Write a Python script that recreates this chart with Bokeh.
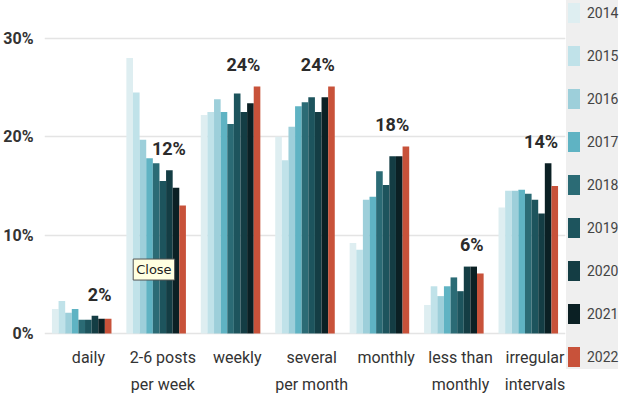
from bokeh.plotting import figure
from bokeh.layouts import row
from bokeh.models import (ColumnDataSource, FactorRange, Range1d, FixedTicker,
                          PrintfTickFormatter, Legend, LegendItem)
from bokeh.transform import dodge
from bokeh.core.properties import value
from bokeh.embed import file_html
from bokeh.resources import INLINE

categories = ["daily", "2-6 posts\nper week", "weekly", "several\nper month",
              "monthly", "less than\nmonthly", "irregular\nintervals"]
years = ["2014", "2015", "2016", "2017", "2018", "2019", "2020", "2021", "2022"]

v2014 = [2.5, 28.0, 22.2, 20.0, 9.2, 2.9, 12.8]
v2015 = [3.3, 24.5, 22.5, 17.6, 8.5, 4.8, 14.5]
v2016 = [2.1, 19.7, 23.8, 21.0, 13.6, 3.8, 14.5]
v2017 = [2.5, 17.8, 22.5, 23.1, 13.9, 4.8, 14.6]
v2018 = [1.4, 17.3, 21.3, 23.5, 16.5, 5.7, 14.2]
v2019 = [1.4, 15.5, 24.4, 24.0, 15.1, 4.3, 13.6]
v2020 = [1.8, 16.6, 22.5, 22.5, 18.0, 6.8, 12.2]
v2021 = [1.5, 14.8, 23.4, 24.0, 18.0, 6.8, 17.3]
v2022 = [1.5, 13.0, 25.1, 25.1, 19.0, 6.1, 15.0]

latest_labels = ["2%", "12%", "24%", "24%", "18%", "6%", "14%"]
y_ticks = [0, 10, 20, 30]

series = [v2014, v2015, v2016, v2017, v2018, v2019, v2020, v2021, v2022]
colors = ["#deeef1", "#c0e2e9", "#9dcfda", "#5fb3c3", "#2b6b75",
          "#1d545d", "#143d44", "#0b2024", "#c8523a"]

FONT = "Roboto"

data = {"cat": categories}
for y, s in zip(years, series):
    data["y" + y] = s
# label positions derived from data (above highest of recent years)
data["lab"] = latest_labels
data["laby"] = [max(a, b, c, d) + 2.2 for a, b, c, d in zip(v2019, v2020, v2021, v2022)]
data["caty"] = [-1.5] * len(categories)
source = ColumnDataSource(data)

# frame spans the full height; 0% sits at 333 px, 30% at ~38 px
p = figure(x_range=FactorRange(*categories, range_padding=0), y_range=Range1d(-6.91, 33.84),
           width=566, height=401, output_backend="svg", toolbar_location=None,
           min_border_left=43, min_border_right=1, min_border_top=0, min_border_bottom=0)
p.outline_line_color = None
p.background_fill_color = "white"

n = len(years)
w = 0.8 / n
for i, (yr, col) in enumerate(zip(years, colors)):
    p.vbar(x=dodge("cat", (i - (n - 1) / 2) * w, range=p.x_range), top="y" + yr,
           width=w, source=source, fill_color=col, line_color=None)

p.text(x=dodge("cat", 0.4, range=p.x_range), y="laby", text="lab", source=source,
       text_align="right", text_baseline="middle", text_font=value(FONT),
       text_font_style="bold", text_font_size="18px", text_color="#2b2b2b")

# category labels (drawn as text under the bars)
p.text(x=dodge("cat", 0.09, range=p.x_range), y="caty", text="cat", source=source,
       text_align="center", text_baseline="top", text_font=value(FONT),
       text_font_size="16px", text_color="#333333", text_line_height=1.4)

# stray tooltip box visible in the reference screenshot
close_src = ColumnDataSource(dict(x=[categories[1]], y=[6.5], t=["Close"]))
p.text(x=dodge("x", -0.03, range=p.x_range), y="y", text="t", source=close_src,
       text_align="center", text_baseline="middle", text_font=value("DejaVu Sans"),
       text_font_size="13px", text_color="#222222",
       background_fill_color="#ffffe1", border_line_color="#555555",
       padding=3)

p.xaxis.visible = False
p.xgrid.grid_line_color = None
p.ygrid.grid_line_color = "#e4e4e4"
p.ygrid.grid_line_width = 1.5
p.yaxis.ticker = FixedTicker(ticks=y_ticks)
p.yaxis.formatter = PrintfTickFormatter(format="%d%%")
p.yaxis.axis_line_color = None
p.yaxis.major_tick_line_color = None
p.yaxis.minor_tick_line_color = None
p.yaxis.major_label_text_font = FONT
p.yaxis.major_label_text_color = "#333333"
p.yaxis.major_label_text_font_size = "16px"
p.yaxis.major_label_text_font_style = "bold"
p.yaxis.major_label_standoff = 5

# legend panel on the right
lg = figure(width=63, height=401, output_backend="svg", toolbar_location=None,
            x_axis_type=None, y_axis_type=None, x_range=Range1d(0, 1), y_range=Range1d(0, 1),
            min_border_left=0, min_border_right=0, min_border_top=0, min_border_bottom=0)
lg.outline_line_color = None
lg.xgrid.grid_line_color = None
lg.ygrid.grid_line_color = None
items = []
for yr, col in zip(years, colors):
    r = lg.vbar(x=[-5], top=[0], width=0.01, fill_color=col, line_color=None)
    items.append(LegendItem(label=yr, renderers=[r]))
legend = Legend(items=items, location="top_left", orientation="vertical",
                background_fill_color="#efefef", background_fill_alpha=1,
                border_line_color=None, margin=0, padding=7,
                glyph_width=15, glyph_height=25, label_height=25, spacing=18,
                label_standoff=6, label_text_font=FONT, label_text_font_size="14px",
                label_text_color="#444444")
lg.add_layout(legend, "center")

layout = row(p, lg, spacing=0)
open("out.html", "w").write(file_html(layout, INLINE))
